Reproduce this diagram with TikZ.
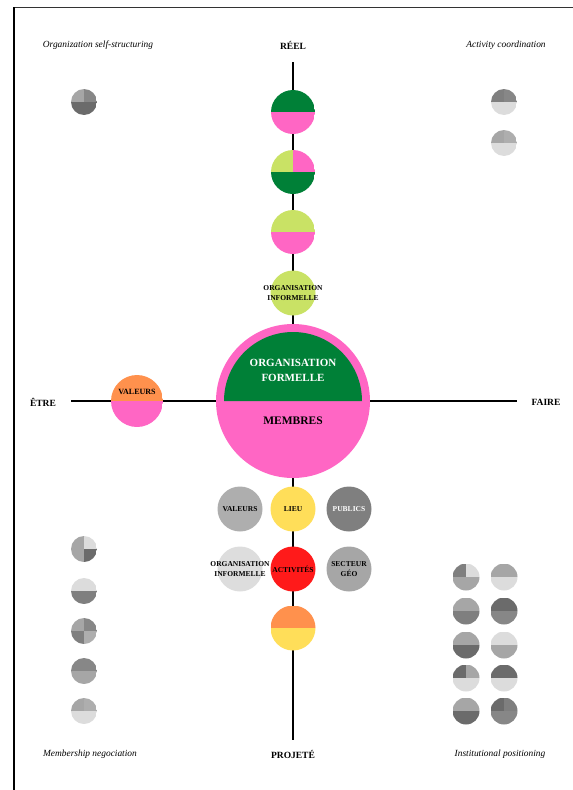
\documentclass[tikz,border=0pt]{standalone}
\usepackage{fontspec}
\setmainfont{Liberation Serif}
\definecolor{orggreen}{HTML}{008037}
\definecolor{orgpink}{HTML}{FF66C4}
\definecolor{orglime}{HTML}{C9E265}
\definecolor{orgorange}{HTML}{FF914D}
\definecolor{orgyellow}{HTML}{FFDE59}
\definecolor{orgred}{HTML}{FF1A1A}
\definecolor{greyL}{HTML}{DCDCDC}
\definecolor{greyM}{HTML}{A6A6A6}
\definecolor{greyN}{HTML}{AEAEAE}
\definecolor{greyD}{HTML}{878787}
\definecolor{greyP}{HTML}{7F7F7F}
\definecolor{greyK}{HTML}{6B6B6B}
\newcommand{\quaddisc}[7]{%
  \begin{scope}
    \clip (#1,#2) circle[radius=#3];
    \fill[#4] (#1-#3,#2-#3) rectangle (#1,#2);
    \fill[#5] (#1,#2-#3) rectangle (#1+#3,#2);
    \fill[#6] (#1-#3,#2) rectangle (#1,#2+#3);
    \fill[#7] (#1,#2) rectangle (#1+#3,#2+#3);
  \end{scope}}
\begin{document}
\begin{tikzpicture}[x=1pt,y=-1pt,
    axislabel/.style={font=\fontsize{9.5}{11}\selectfont\bfseries},
    cornerlabel/.style={font=\fontsize{9.4}{11}\selectfont\itshape},
    dotlabel/.style={font=\fontsize{7.5}{10.5}\selectfont\bfseries, align=center, inner sep=0pt},
    bigdot/.style={circle, minimum size=45, inner sep=0pt},
    axis/.style={line width=1.2pt}]
            \useasboundingbox (0,0) rectangle (573,790);
            \draw[line width=0.8pt, black!80] (13,7)--(573,7);
            \draw[line width=1.6pt] (14,7)--(14,790);

            \coordinate (axisN) at (293,62);
            \coordinate (axisS) at (293,740);
            \coordinate (axisW) at (71,401);
            \coordinate (axisE) at (517,401);
            \draw[axis] (axisN)--(axisS);
            \draw[axis] (axisW)--(axisE);

            \node[axislabel] (reel) at (293,45){RÉEL};
            \node[axislabel] (projete) at (293,754){PROJETÉ};
            \node[axislabel] (etre) at (43,402){ÊTRE};
            \node[axislabel] (faire) at (546,402){FAIRE};

            \node[cornerlabel] (selfstruct) at (98,45){Organization self-structuring};
            \node[cornerlabel] (activcoord) at (506,45){Activity coordination};
            \node[cornerlabel] (membership) at (90,754){Membership negociation};
            \node[cornerlabel] (institution) at (500,754){Institutional positioning};

            \quaddisc{293}{112}{22}{orggreen}{orggreen}{orgpink}{orgpink}
            \quaddisc{293}{172}{22}{orglime}{orgpink}{orggreen}{orggreen}
            \quaddisc{293}{232}{22}{orglime}{orglime}{orgpink}{orgpink}
            \node[bigdot, fill=orglime] (orginf) at (293,293){};
            \node[dotlabel] (orginfText) at (293,293){ORGANISATION\\INFORMELLE};

            \node[circle, fill=orgpink, minimum size=154, inner sep=0pt] (membres) at (293,401){};
            \fill[orggreen] (224,401) arc[start angle=180, end angle=360, radius=69] -- cycle;
            \node[font=\fontsize{11}{15}\selectfont\bfseries, text=white, align=center] (formelle) at (293,370){ORGANISATION\\FORMELLE};
            \node[font=\fontsize{11.5}{13}\selectfont\bfseries] (membresText) at (293,421){MEMBRES};

            \quaddisc{137}{401}{26}{orgorange}{orgorange}{orgpink}{orgpink}
            \node[dotlabel, font=\fontsize{8}{10}\selectfont\bfseries] (valeursEtre) at (137,392){VALEURS};

            \node[bigdot, fill=greyN] (valeurs) at (240,509){};
            \node[dotlabel] at (valeurs){VALEURS};
            \node[bigdot, fill=orgyellow] (lieu) at (293,509){};
            \node[dotlabel] at (lieu){LIEU};
            \node[bigdot, fill=greyP] (publics) at (349,509){};
            \node[dotlabel, text=white] at (publics){PUBLICS};

            \node[bigdot, fill=greyL!98!white] (orginfBas) at (240,569){};
            \node[dotlabel] at (orginfBas){ORGANISATION\\INFORMELLE};
            \node[bigdot, fill=orgred] (activites) at (293,569){};
            \node[dotlabel] at (activites){ACTIVITÉS};
            \node[bigdot, fill=greyM] (secteur) at (349,569){};
            \node[dotlabel] at (secteur){SECTEUR\\GÉO};

            \quaddisc{293}{628}{22.5}{orgorange}{orgorange}{orgyellow}{orgyellow}

            \quaddisc{84}{102}{13}{greyM}{greyD}{greyK}{greyK}

            \quaddisc{504}{102}{13}{greyP}{greyD}{greyL}{greyL}
            \quaddisc{504}{143}{13}{greyM}{greyN}{greyL}{greyL}

            \quaddisc{84}{549}{13}{greyM}{greyL}{greyM}{greyK}
            \quaddisc{84}{591}{13}{greyL}{greyL}{greyP}{greyP}
            \quaddisc{84}{631}{13}{greyM}{greyD}{greyP}{greyN}
            \quaddisc{84}{671}{13}{greyD}{greyD}{greyM}{greyM}
            \quaddisc{84}{711}{13}{greyM}{greyN}{greyL}{greyL}

            \quaddisc{466}{577}{13.5}{greyP}{greyL}{greyM}{greyM}
            \quaddisc{466}{611}{13.5}{greyM}{greyM}{greyP}{greyP}
            \quaddisc{466}{645}{13.5}{greyM}{greyM}{greyK}{greyK}
            \quaddisc{466}{678}{13.5}{greyK}{greyM}{greyL}{greyL}
            \quaddisc{466}{711}{13.5}{greyM}{greyM}{greyK}{greyK}

            \quaddisc{504}{577}{13.5}{greyM}{greyM}{greyL}{greyL}
            \quaddisc{504}{611}{13.5}{greyK}{greyK}{greyD}{greyD}
            \quaddisc{504}{645}{13.5}{greyL}{greyL}{greyM}{greyM}
            \quaddisc{504}{678}{13.5}{greyK}{greyK}{greyL}{greyL}
            \quaddisc{504}{711}{13.5}{greyK}{greyP}{greyD}{greyD}
        \end{tikzpicture}
\end{document}
